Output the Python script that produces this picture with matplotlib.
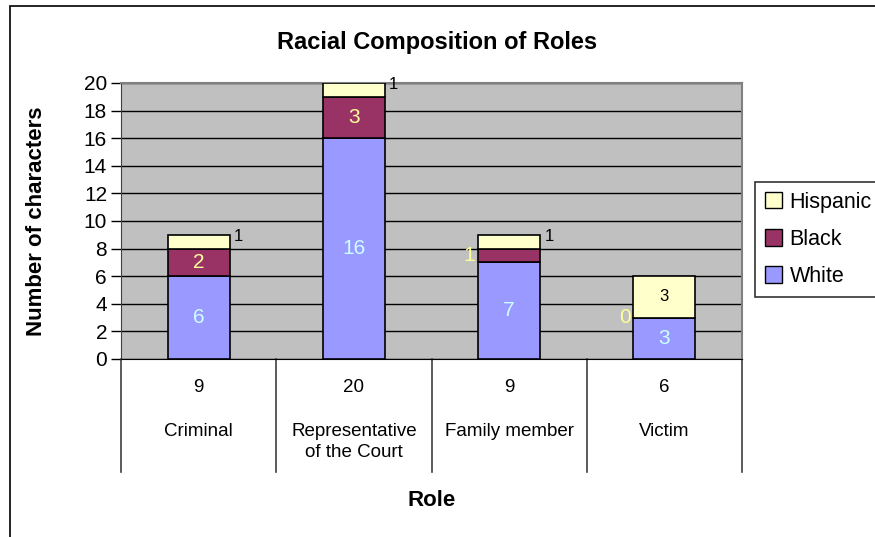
import matplotlib.pyplot as plt
from matplotlib.patches import Patch, Rectangle
from matplotlib import transforms

# --- data -------------------------------------------------------------------
roles = ["Criminal", "Representative\nof the Court", "Family member", "Victim"]
white = [6, 16, 7, 3]
black = [2, 3, 1, 0]
hispanic = [1, 1, 1, 3]
totals = [9, 20, 9, 6]
yticks = [0, 2, 4, 6, 8, 10, 12, 14, 16, 18, 20]

c_white = "#9999FF"
c_black = "#993366"
c_hisp = "#FFFFCC"

plt.rcParams["font.family"] = ["Liberation Sans", "DejaVu Sans"]

W, H = 875, 537
fig = plt.figure(figsize=(W / 100, H / 100), dpi=100)

# chart-area border (only left / top edges fall inside the picture)
fig.patches.append(Rectangle((10 / W, -0.1), 1.2, (H - 6) / H + 0.1,
                             transform=fig.transFigure, fill=False,
                             edgecolor="black", linewidth=1.2))

# plot area in pixels
left, right, top, bottom = 121, 742, 83, 359
ax = fig.add_axes([left / W, 1 - bottom / H, (right - left) / W, (bottom - top) / H])
ax.set_facecolor("#C0C0C0")

x = list(range(len(roles)))
bw = 0.4
base2 = [w + b for w, b in zip(white, black)]
ax.bar(x, white, bw, color=c_white, edgecolor="black", linewidth=1.2, zorder=3)
ax.bar(x, black, bw, bottom=white, color=c_black, edgecolor="black", linewidth=1.2, zorder=3)
ax.bar(x, hispanic, bw, bottom=base2, color=c_hisp, edgecolor="black", linewidth=1.2, zorder=3)

ax.set_xlim(-0.5, len(roles) - 0.5)
ax.set_ylim(0, 20)
ax.set_yticks(yticks)
ax.set_yticklabels([str(t) for t in yticks], fontsize=15)
ax.set_xticks([])
ax.tick_params(axis="y", direction="out", length=7, width=1, color="black", pad=3)
ax.yaxis.grid(True, color="black", linewidth=1)
ax.set_axisbelow(True)

for s in ["top", "right"]:
    ax.spines[s].set_color("#808080")
    ax.spines[s].set_linewidth(1.5)
ax.spines["left"].set_color("#404040")
ax.spines["bottom"].set_color("black")

# --- data labels --------------------------------------------------------------
for i in x:
    # white segment
    ax.text(i, white[i] / 2, str(white[i]), ha="center", va="center",
            fontsize=15, color="#CCFFFF", zorder=4)
    # black segment
    if black[i] >= 2:
        ax.text(i, white[i] + black[i] / 2, str(black[i]), ha="center", va="center",
                fontsize=15, color="#FFFF99", zorder=4)
    else:
        ax.annotate(str(black[i]), (i - bw / 2, white[i] + black[i] / 2),
                    xytext=(-2, 0), textcoords="offset points", ha="right",
                    va="center", fontsize=15, color="#FFFF99", zorder=4)
    # hispanic segment
    if hispanic[i] >= 2:
        ax.text(i, base2[i] + hispanic[i] / 2, str(hispanic[i]), ha="center",
                va="center", fontsize=12, color="black", zorder=4)
    else:
        ax.annotate(str(hispanic[i]), (i + bw / 2, base2[i] + hispanic[i] * 0.9),
                    xytext=(3, 0), textcoords="offset points", ha="left",
                    va="center", fontsize=12, color="black", zorder=4)

# --- data table below the axis -------------------------------------------------
trans = transforms.blended_transform_factory(ax.transData, ax.transAxes)
ph = bottom - top
table_bottom = -(472 - bottom) / ph
for xb in [-0.5, 0.5, 1.5, 2.5, 3.5]:
    ax.plot([xb, xb], [0, table_bottom], transform=trans, color="#404040",
            linewidth=1.2, clip_on=False)
for i in x:
    ax.text(i, -(388 - bottom) / ph, str(totals[i]), transform=trans,
            ha="center", va="center", fontsize=13.5)
    ax.text(i, -(423 - bottom) / ph, roles[i], transform=trans,
            ha="center", va="top", fontsize=13.5, linespacing=1.3)

ax.set_ylabel("Number of characters", fontsize=16, fontweight="bold", labelpad=6)
ax.yaxis.set_label_coords(-(left - 47) / (right - left), 0.5)
fig.text(432 / W, 1 - 500 / H, "Role", ha="center", va="center",
         fontsize=16, fontweight="bold")
fig.text(437 / W, 1 - 42 / H, "Racial Composition of Roles", ha="center",
         va="center", fontsize=17, fontweight="bold")

# --- legend -----------------------------------------------------------------
handles = [Patch(facecolor=c_hisp, edgecolor="black", label="Hispanic"),
           Patch(facecolor=c_black, edgecolor="black", label="Black"),
           Patch(facecolor=c_white, edgecolor="black", label="White")]
leg = fig.legend(handles=handles, loc="upper left",
                 bbox_to_anchor=(755 / W, 1 - 182 / H), fontsize=15.5,
                 frameon=True, fancybox=False, handlelength=0.8,
                 handleheight=0.8, handletextpad=0.35, labelspacing=0.75,
                 borderpad=0.45, borderaxespad=0)
leg.get_frame().set_edgecolor("black")
leg.get_frame().set_linewidth(1.2)

fig.savefig("out.png", dpi=100)
